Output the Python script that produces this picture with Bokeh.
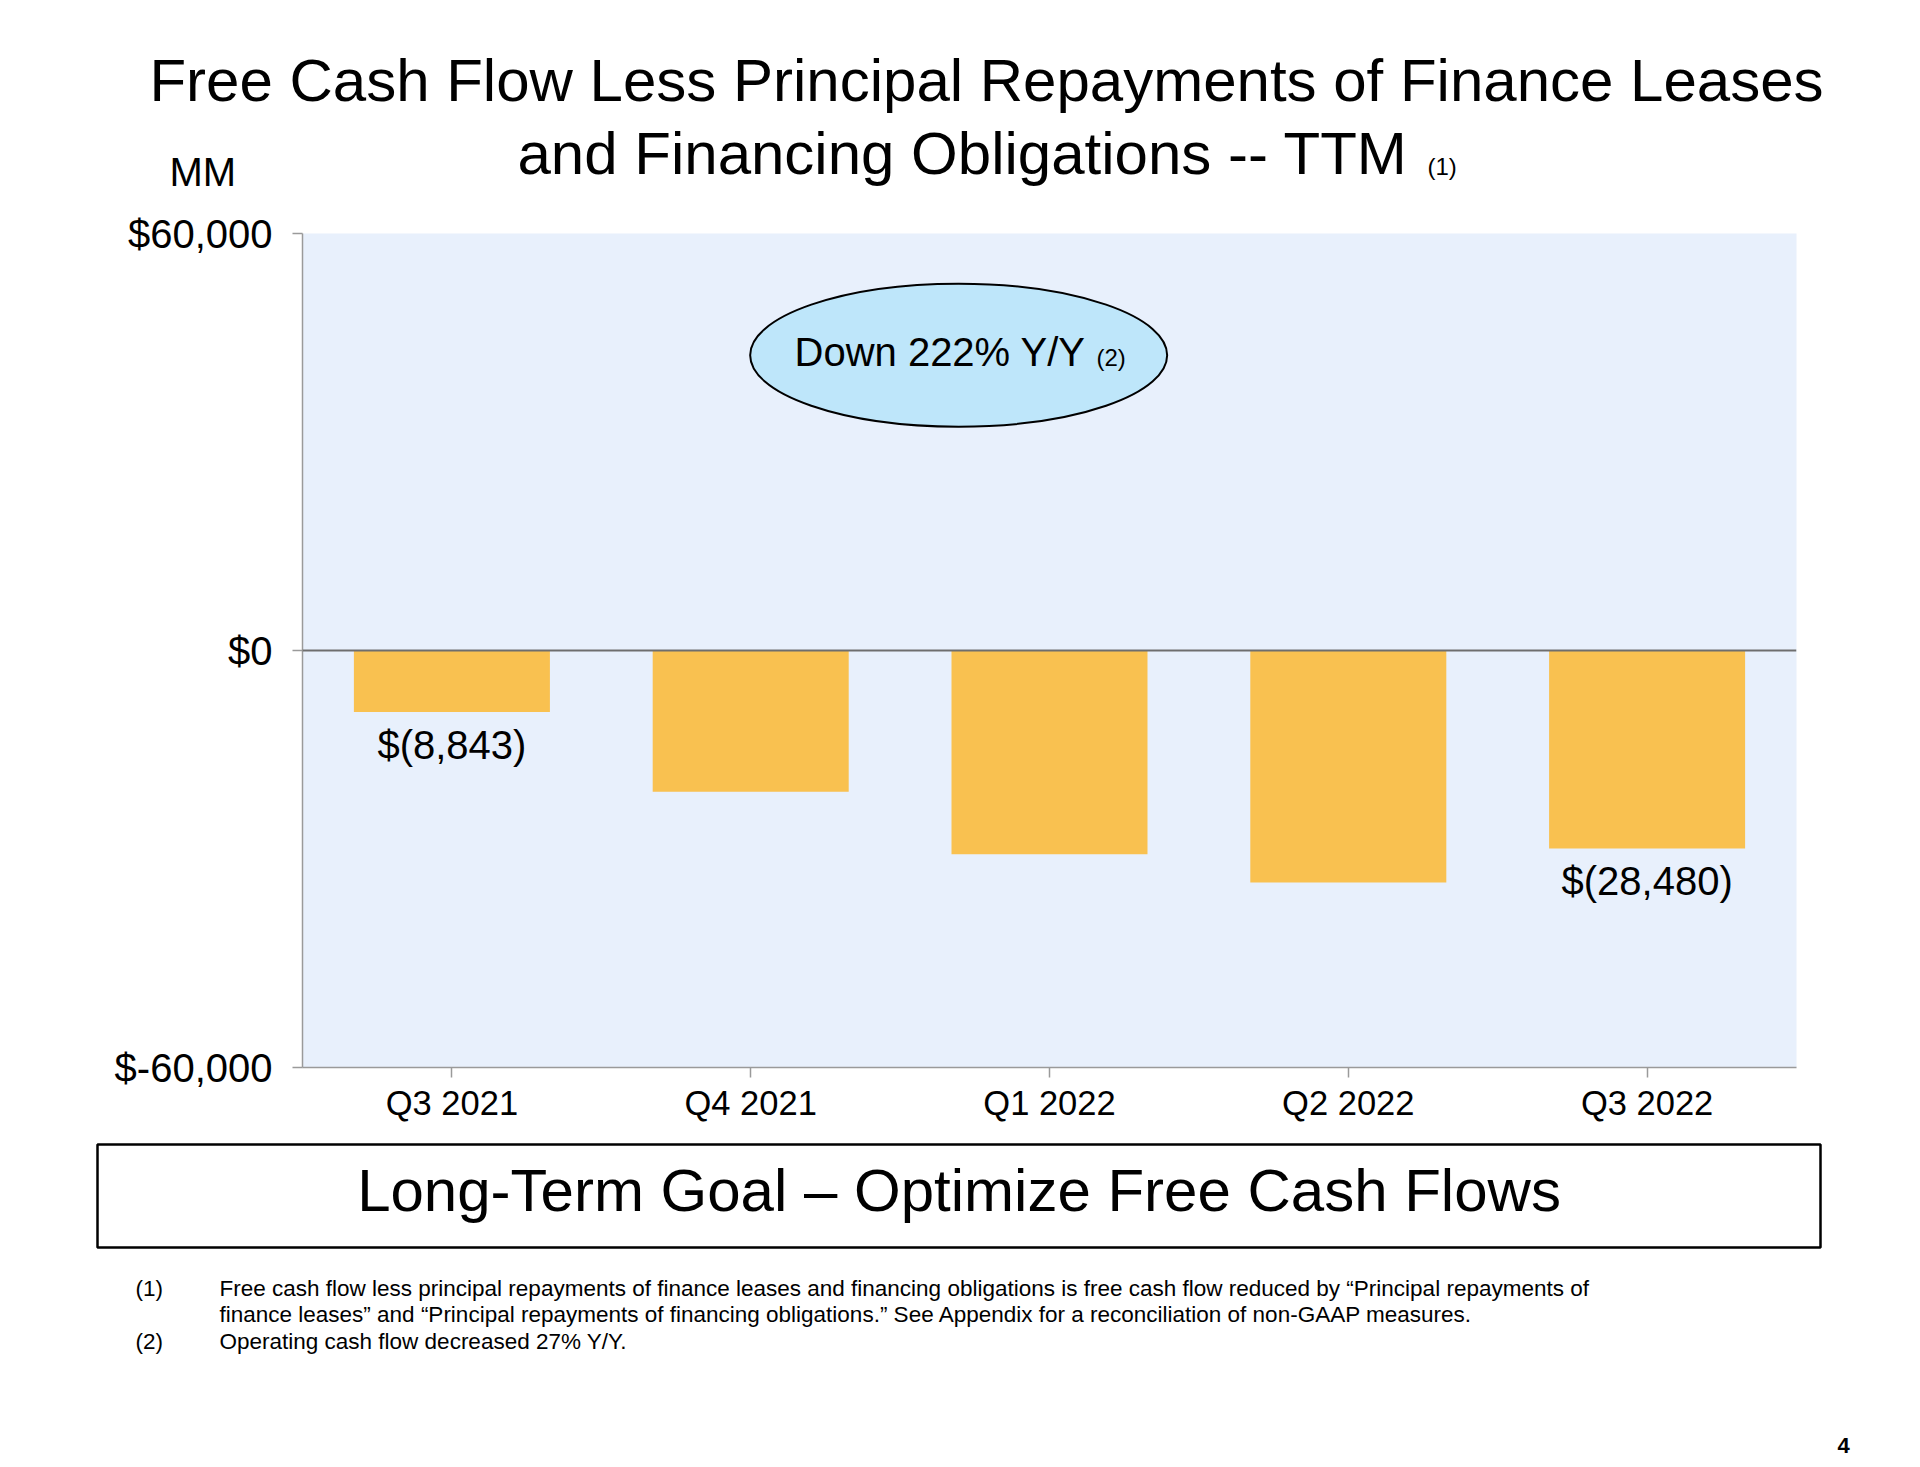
from bokeh.plotting import figure
from bokeh.layouts import column
from bokeh.models import (ColumnDataSource, FactorRange, Range1d, FixedTicker,
                          Label, LabelSet, Span)
from bokeh.transform import dodge
from bokeh.core.properties import value
from bokeh.embed import file_html
from bokeh.resources import INLINE

# ---------------- data ----------------
categories = ["Q3 2021", "Q4 2021", "Q1 2022", "Q2 2022", "Q3 2022"]
values = [-8843, -20330, -29300, -33390, -28480]
bar_labels = ["$(8,843)", "", "", "", "$(28,480)"]
y_ticks = [-60000, 0, 60000]
y_tick_labels = ["$-60,000", "$0", "$60,000"]

title_line1 = "Free Cash Flow Less Principal Repayments of Finance Leases"
title_line2 = "and Financing Obligations -- TTM"
title_note = "(1)"
unit_label = "MM"
callout_text = "Down 222% Y/Y"
callout_note = "(2)"
goal_text = "Long-Term Goal \u2013 Optimize Free Cash Flows"
footnote_marks = ["(1)", "", "(2)"]
footnote_lines = [
    "Free cash flow less principal repayments of finance leases and financing obligations is free cash flow reduced by \u201cPrincipal repayments of",
    "finance leases\u201d and \u201cPrincipal repayments of financing obligations.\u201d See Appendix for a reconciliation of non-GAAP measures.",
    "Operating cash flow decreased 27% Y/Y.",
]
page_number = "4"

# ---------------- layout (page pixels) ----------------
FONT = "Liberation Sans"
W = 1904
FL, FR, FT, FB = 302, 1796, 233, 1067     # frame edges of the chart
TOP_H = 203                               # title band height
MAIN_BOT = 1140                           # bottom of chart figure
BOT_END = 1460                            # bottom of footer band
BASE_FIX = 0.37                           # label baseline correction (em)


def band(y0, y1):
    f = figure(width=W, height=y1 - y0, x_range=Range1d(0, W), y_range=Range1d(y1, y0),
               min_border=0, x_axis_location=None, y_axis_location=None,
               output_backend="svg", toolbar_location=None, frame_align=False)
    f.outline_line_color = None
    f.xgrid.visible = False
    f.ygrid.visible = False
    f.background_fill_color = "white"
    f.border_fill_color = "white"
    return f


def add_text(f, txt, px, py, size, align="left", style="normal"):
    f.add_layout(Label(x=px, y=py - BASE_FIX * size, text=txt, text_font=FONT,
                       text_font_size=f"{size}px", text_align=align,
                       text_baseline="alphabetic", text_font_style=style,
                       text_color="black"))


# ---- title band ----
top = band(0, TOP_H)
add_text(top, title_line1, 986, 102, 60, align="center")
add_text(top, title_line2, 517, 175, 60)
add_text(top, title_note, 1427, 175, 24)
add_text(top, unit_label, 169, 186, 40)

# ---- chart ----
p = figure(width=W, height=MAIN_BOT - TOP_H,
           x_range=FactorRange(factors=categories),
           y_range=Range1d(-60000, 60000),
           output_backend="svg", toolbar_location=None, frame_align=False,
           min_border_left=FL, min_border_right=W - FR,
           min_border_top=FT - TOP_H, min_border_bottom=MAIN_BOT - FB)
p.background_fill_color = "#E8F0FC"
p.border_fill_color = "white"
p.outline_line_color = None
p.xgrid.visible = False
p.ygrid.visible = False

AX = "#9A9A9A"
for ax in (p.xaxis[0], p.yaxis[0]):
    ax.axis_line_color = AX
    ax.axis_line_width = 1.5
    ax.major_tick_line_color = AX
    ax.major_tick_line_width = 1.5
    ax.major_tick_out = 10
    ax.major_tick_in = 0
    ax.minor_tick_out = 0
    ax.minor_tick_in = 0
    ax.major_label_text_font = FONT
    ax.major_label_text_color = "black"

p.xaxis.major_label_text_font_size = "34.5px"
p.xaxis.major_label_standoff = 6
p.yaxis.ticker = FixedTicker(ticks=y_ticks)
p.yaxis.major_label_overrides = {t: l for t, l in zip(y_ticks, y_tick_labels)}
p.yaxis.major_label_text_font_size = "40px"
p.yaxis.major_label_standoff = 20

src = ColumnDataSource(dict(cat=categories, val=values, lab=bar_labels))
p.vbar(x="cat", top="val", bottom=0, width=0.656, source=src,
       fill_color="#F9C150", line_color=None)

p.add_layout(Span(location=0, dimension="width", line_color="#6E6E6E", line_width=2))

p.add_layout(LabelSet(x="cat", y="val", text="lab", source=src,
                      text_align="center", text_baseline="alphabetic", y_offset=-47,
                      text_font=value(FONT), text_font_size=value("40px"),
                      text_color="black"))

# callout ellipse
ell_src = ColumnDataSource(dict(c=["Q1 2022"], y=[42490]))
p.ellipse(x=dodge("c", -0.304, range=p.x_range), y="y", width=417, height=143,
          width_units="screen", height_units="screen", source=ell_src,
          fill_color="#BEE6FA", line_color="black", line_width=2)


def chart_text(txt, px, py, size):
    p.add_layout(Label(x=px - FL, y=FB - (py - BASE_FIX * size),
                       x_units="screen", y_units="screen",
                       text=txt, text_font=FONT, text_font_size=f"{size}px",
                       text_align="left", text_baseline="alphabetic", text_color="black"))


chart_text(callout_text, 794, 366, 40)
chart_text(callout_note, 1096, 366, 24)

# ---- footer band ----
bot = band(MAIN_BOT, BOT_END)
bot.quad(left=[97], right=[1820], top=[1144], bottom=[1247],
         fill_color="white", line_color="black", line_width=2.5)
add_text(bot, goal_text, 958.5, 1212, 60, align="center")
for i, (m, t) in enumerate(zip(footnote_marks, footnote_lines)):
    y = 1296 + i * 26.5
    if m:
        add_text(bot, m, 135, y, 22.5)
    add_text(bot, t, 219, y, 22.5)
add_text(bot, page_number, 1837, 1453, 22, style="bold")

layout = column(top, p, bot, spacing=0)
open("out.html", "w").write(file_html(layout, INLINE))
